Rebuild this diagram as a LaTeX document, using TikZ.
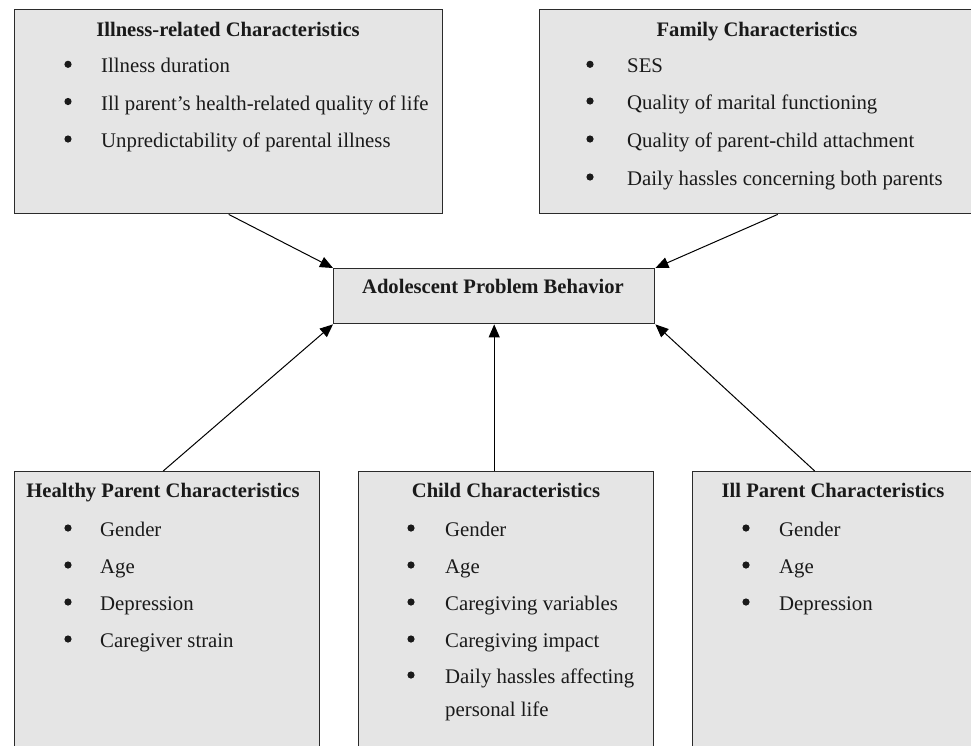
\documentclass[tikz,border=0pt]{standalone}
\usepackage{fontspec}
\setmainfont{Liberation Serif}
\usetikzlibrary{arrows.meta}
\definecolor{boxfill}{HTML}{E5E5E5}
\definecolor{boxline}{HTML}{2B2B2B}
\definecolor{ink}{HTML}{1A1A1A}
\begin{document}
\begin{tikzpicture}[x=1pt,y=-1pt,
  box/.style={draw=boxline, fill=boxfill, line width=1.4pt, rectangle, inner sep=0pt, anchor=north west},
  ttl/.style={font=\fontsize{20.6}{24}\selectfont\bfseries, text=ink, anchor=base, inner sep=0pt},
  itm/.style={font=\fontsize{20.8}{24}\selectfont, text=ink, anchor=base west, inner sep=0pt},
  arr/.style={-{Triangle[length=13pt,width=11pt]}, line width=1pt, black},
  bul/.style={fill=ink}]
\useasboundingbox (0,0) rectangle (971,745);
\clip (0,0) rectangle (971,745);

% boxes
\node[box, minimum width=428pt, minimum height=204pt] (tl) at (14,9) {};
\node[box, minimum width=436pt, minimum height=204pt] (tr) at (539,9) {};
\node[box, minimum width=321pt, minimum height=55pt] (cb) at (333,268) {};
\node[box, minimum width=305pt, minimum height=300pt] (hp) at (14,471) {};
\node[box, minimum width=295pt, minimum height=300pt] (ch) at (358,471) {};
\node[box, minimum width=284pt, minimum height=300pt] (ip) at (692,471) {};

% connectors
\draw[arr] (tl.south) -- (cb.north west);
\draw[arr] ([xshift=20pt]tr.south) -- (cb.north east);
\draw[arr] ([xshift=-4pt]hp.north) -- (cb.south west);
\draw[arr] (ch.north -| cb.south) -- (cb.south);
\draw[arr] ([xshift=-20pt]ip.north) -- (cb.south east);

% centre
\node[ttl] (cbt) at (493,293.7) {Adolescent Problem Behavior};

% illness-related
\node[ttl] (tlt) at (228,36.5) {Illness-related Characteristics};
\fill[bul] (68,64.3) circle[radius=3.6pt];
\fill[bul] (68,101.5) circle[radius=3.6pt];
\fill[bul] (68,139) circle[radius=3.6pt];
\node[itm] (tl1) at (101,72.8) {Illness duration};
\node[itm] (tl2) at (101,110) {Ill parent’s health-related quality of life};
\node[itm] (tl3) at (101,147.5) {Unpredictability of parental illness};

% family
\node[ttl] (trt) at (757,36) {Family Characteristics};
\fill[bul] (590,64.3) circle[radius=3.6pt];
\fill[bul] (590,101) circle[radius=3.6pt];
\fill[bul] (590,139) circle[radius=3.6pt];
\fill[bul] (590,177) circle[radius=3.6pt];
\node[itm] (tr1) at (627,72.8) {SES};
\node[itm] (tr2) at (627,109.5) {Quality of marital functioning};
\node[itm] (tr3) at (627,147.5) {Quality of parent-child attachment};
\node[itm] (tr4) at (627,185.5) {Daily hassles concerning both parents};

% healthy parent
\node[ttl] (hpt) at (163,497) {Healthy Parent Characteristics};
\fill[bul] (68,528) circle[radius=3.6pt];
\fill[bul] (68,565) circle[radius=3.6pt];
\fill[bul] (68,602) circle[radius=3.6pt];
\fill[bul] (68,639) circle[radius=3.6pt];
\node[itm] (hp1) at (100,536.5) {Gender};
\node[itm] (hp2) at (100,573.5) {Age};
\node[itm] (hp3) at (100,610.5) {Depression};
\node[itm] (hp4) at (100,647.5) {Caregiver strain};

% child
\node[ttl] (cht) at (506,497) {Child Characteristics};
\fill[bul] (411,528) circle[radius=3.6pt];
\fill[bul] (411,565) circle[radius=3.6pt];
\fill[bul] (411,602) circle[radius=3.6pt];
\fill[bul] (411,639) circle[radius=3.6pt];
\fill[bul] (411,675) circle[radius=3.6pt];
\node[itm] (ch1) at (445,536.5) {Gender};
\node[itm] (ch2) at (445,573.5) {Age};
\node[itm] (ch3) at (445,610.5) {Caregiving variables};
\node[itm] (ch4) at (445,647.5) {Caregiving impact};
\node[itm] (ch5) at (445,683.5) {Daily hassles affecting};
\node[itm] (ch6) at (445,716.5) {personal life};

% ill parent
\node[ttl] (ipt) at (833,497) {Ill Parent Characteristics};
\fill[bul] (746,528) circle[radius=3.6pt];
\fill[bul] (746,565) circle[radius=3.6pt];
\fill[bul] (746,602) circle[radius=3.6pt];
\node[itm] (ip1) at (779,536.5) {Gender};
\node[itm] (ip2) at (779,573.5) {Age};
\node[itm] (ip3) at (779,610.5) {Depression};
\end{tikzpicture}
\end{document}
